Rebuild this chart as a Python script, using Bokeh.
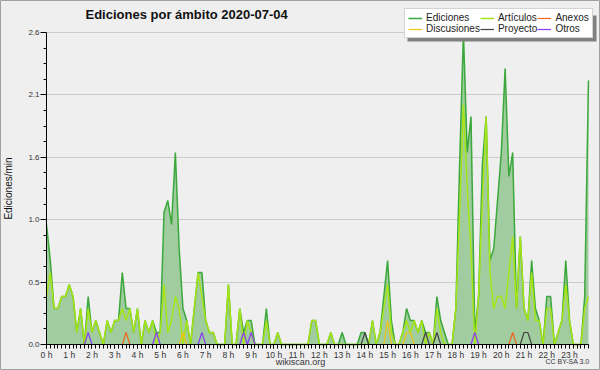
from bokeh.plotting import figure
from bokeh.models import Range1d, FixedTicker, Legend, LegendItem, Label, BoxAnnotation
from bokeh.embed import file_html
from bokeh.resources import INLINE

# ---- data: edits per minute, 10-minute bins over the day ----
minutes = list(range(0, 1440, 10))
hours_x = [m / 60 for m in minutes]

ediciones = [
    1.0, 0.7, 0.3, 0.3, 0.4, 0.4, 0.5, 0.4, 0.1, 0.3, 0.0, 0.4,
    0.1, 0.2, 0.1, 0.0, 0.2, 0.1, 0.2, 0.2, 0.6, 0.3, 0.3, 0.1,
    0.3, 0.0, 0.2, 0.1, 0.2, 0.1, 0.1, 1.1, 1.2, 1.0, 1.6, 0.8,
    0.3, 0.2, 0.0, 0.3, 0.6, 0.6, 0.2, 0.1, 0.1, 0.0, 0.0, 0.0,
    0.5, 0.0, 0.0, 0.3, 0.1, 0.2, 0.2, 0.0, 0.0, 0.0, 0.3, 0.0,
    0.0, 0.1, 0.0, 0.0, 0.0, 0.0, 0.0, 0.0, 0.0, 0.0, 0.2, 0.2,
    0.0, 0.0, 0.0, 0.1, 0.0, 0.0, 0.1, 0.0, 0.0, 0.0, 0.0, 0.1,
    0.1, 0.0, 0.2, 0.0, 0.1, 0.4, 0.7, 0.2, 0.0, 0.0, 0.1, 0.3,
    0.2, 0.2, 0.1, 0.2, 0.1, 0.1, 0.0, 0.4, 0.2, 0.1, 0.0, 0.0,
    0.3, 1.5, 2.6, 1.6, 1.9, 0.1, 0.4, 1.5, 1.9, 0.7, 0.8, 1.2,
    1.6, 2.3, 1.4, 1.6, 0.3, 0.9, 0.3, 0.2, 0.7, 0.3, 0.2, 0.0,
    0.4, 0.4, 0.0, 0.1, 0.2, 0.7, 0.2, 0.0, 0.0, 0.0, 0.4, 2.2,
]

articulos = [
    0.4, 0.6, 0.3, 0.3, 0.4, 0.4, 0.5, 0.4, 0.1, 0.3, 0.0, 0.3,
    0.1, 0.2, 0.1, 0.0, 0.2, 0.1, 0.2, 0.2, 0.3, 0.2, 0.3, 0.1,
    0.3, 0.0, 0.2, 0.1, 0.2, 0.0, 0.1, 0.5, 0.1, 0.2, 0.4, 0.3,
    0.0, 0.2, 0.0, 0.3, 0.6, 0.4, 0.2, 0.1, 0.1, 0.0, 0.0, 0.0,
    0.5, 0.0, 0.0, 0.3, 0.0, 0.2, 0.1, 0.0, 0.0, 0.0, 0.2, 0.0,
    0.0, 0.1, 0.0, 0.0, 0.0, 0.0, 0.0, 0.0, 0.0, 0.0, 0.2, 0.2,
    0.0, 0.0, 0.0, 0.1, 0.0, 0.0, 0.0, 0.0, 0.0, 0.0, 0.0, 0.0,
    0.0, 0.0, 0.2, 0.0, 0.1, 0.3, 0.5, 0.1, 0.0, 0.0, 0.1, 0.2,
    0.1, 0.2, 0.1, 0.2, 0.0, 0.1, 0.0, 0.3, 0.1, 0.0, 0.0, 0.0,
    0.3, 1.1, 2.0, 1.3, 0.8, 0.0, 0.4, 1.2, 1.9, 0.6, 0.3, 0.4,
    0.4, 0.3, 0.6, 0.9, 0.3, 0.9, 0.3, 0.2, 0.6, 0.2, 0.2, 0.0,
    0.3, 0.3, 0.0, 0.1, 0.2, 0.5, 0.2, 0.0, 0.0, 0.0, 0.3, 0.4,
]

discusiones = [
    0, 0, 0, 0, 0, 0, 0, 0, 0, 0, 0, 0,
    0, 0, 0, 0, 0, 0, 0, 0, 0, 0, 0, 0,
    0, 0, 0, 0, 0, 0, 0, 0, 0, 0, 0, 0,
    0.1, 0, 0, 0, 0, 0, 0, 0, 0, 0, 0, 0,
    0, 0, 0, 0, 0, 0, 0, 0, 0, 0, 0, 0,
    0, 0, 0, 0, 0, 0, 0, 0, 0, 0, 0, 0,
    0, 0, 0, 0, 0, 0, 0, 0, 0, 0, 0, 0,
    0, 0, 0, 0, 0, 0, 0.2, 0, 0, 0, 0, 0.1,
    0.1, 0, 0, 0, 0, 0, 0, 0, 0, 0, 0, 0,
    0, 0, 0, 0, 0, 0, 0, 0, 0, 0, 0, 0,
    0, 0, 0, 0, 0, 0, 0, 0, 0, 0, 0, 0,
    0, 0, 0, 0, 0, 0, 0, 0, 0, 0, 0, 0,
]

proyecto = [
    0, 0, 0, 0, 0, 0, 0, 0, 0, 0, 0, 0,
    0, 0, 0, 0, 0, 0, 0, 0, 0, 0, 0, 0,
    0, 0, 0, 0, 0, 0, 0, 0, 0, 0, 0, 0,
    0, 0, 0, 0, 0, 0, 0, 0, 0, 0, 0, 0,
    0, 0, 0, 0, 0, 0, 0, 0, 0, 0, 0, 0,
    0, 0, 0, 0, 0, 0, 0, 0, 0, 0, 0, 0,
    0, 0, 0, 0, 0, 0, 0, 0, 0, 0, 0, 0,
    0.1, 0, 0, 0, 0, 0, 0, 0, 0, 0, 0, 0,
    0, 0, 0, 0, 0.1, 0, 0, 0.1, 0, 0, 0, 0,
    0, 0, 0, 0, 0, 0, 0, 0, 0, 0, 0, 0,
    0, 0, 0, 0, 0, 0, 0.1, 0.1, 0, 0, 0, 0,
    0, 0, 0, 0, 0, 0, 0, 0, 0, 0, 0, 0,
]

anexos = [
    0, 0, 0, 0, 0, 0, 0, 0, 0, 0, 0, 0,
    0, 0, 0, 0, 0, 0, 0, 0, 0, 0.1, 0, 0,
    0, 0, 0, 0, 0, 0, 0, 0, 0, 0, 0, 0,
    0, 0, 0, 0, 0, 0, 0, 0, 0, 0, 0, 0,
    0, 0, 0, 0, 0, 0, 0, 0, 0, 0, 0, 0,
    0, 0, 0, 0, 0, 0, 0, 0, 0, 0, 0, 0,
    0, 0, 0, 0, 0, 0, 0, 0, 0, 0, 0, 0,
    0, 0, 0, 0, 0, 0, 0, 0, 0, 0, 0, 0,
    0, 0, 0, 0, 0, 0, 0, 0, 0, 0, 0, 0,
    0, 0, 0, 0, 0, 0, 0, 0, 0, 0, 0, 0,
    0, 0, 0, 0.1, 0, 0, 0, 0, 0, 0, 0, 0,
    0, 0, 0, 0, 0, 0, 0, 0, 0, 0, 0, 0,
]

otros = [
    0, 0, 0, 0, 0, 0, 0, 0, 0, 0, 0, 0.1,
    0, 0, 0, 0, 0, 0, 0, 0, 0, 0, 0, 0,
    0, 0, 0, 0, 0, 0.1, 0, 0, 0, 0, 0, 0,
    0, 0, 0, 0, 0, 0.1, 0, 0, 0, 0, 0, 0,
    0, 0, 0, 0, 0.1, 0, 0.1, 0, 0, 0, 0, 0,
    0, 0, 0, 0, 0, 0, 0, 0, 0, 0, 0, 0,
    0, 0, 0, 0, 0, 0, 0, 0, 0, 0, 0, 0,
    0, 0, 0, 0, 0, 0, 0, 0, 0, 0, 0, 0,
    0, 0, 0, 0, 0, 0, 0, 0, 0, 0, 0, 0,
    0, 0, 0, 0, 0, 0.1, 0, 0, 0, 0, 0, 0,
    0, 0, 0, 0, 0, 0, 0, 0, 0, 0, 0, 0,
    0, 0, 0, 0, 0, 0, 0, 0, 0, 0, 0, 0,
]

hour_ticks = list(range(24))
hour_labels = [f"{h} h" for h in hour_ticks]
y_ticks = [0, 0.52, 1.04, 1.56, 2.08, 2.6]
y_labels = ["0.0", "0.5", "1.0", "1.6", "2.1", "2.6"]
y_minor = [0.13, 0.26, 0.39, 0.65, 0.78, 0.91, 1.17, 1.3, 1.43,
           1.69, 1.82, 1.95, 2.21, 2.34, 2.47]

title_text = "Ediciones por ámbito  2020-07-04"
FONT = "Liberation Sans"
BG = "#efeff0"

# The frame covers the whole canvas; axes are pinned at x=0 h and y=0.
# Plot area in pixels: x 46..588 (0 h .. 23:50), y 344..32 (0 .. 2.6)
X_END = 143 / 6
PXH = 542 / X_END          # px per hour
PXU = 312 / 2.6            # px per unit
p = figure(width=600, height=370, output_backend="svg", toolbar_location=None,
           x_range=Range1d(-46 / PXH, X_END + 12 / PXH),
           y_range=Range1d(-26 / PXU, 2.6 + 32 / PXU),
           min_border_left=0, min_border_right=0,
           min_border_top=0, min_border_bottom=0)
p.title.visible = False
p.border_fill_color = BG
p.background_fill_color = BG
p.outline_line_color = "#a0a0a0"
p.outline_line_width = 1

# Axes
xa = p.xaxis[0]
xa.fixed_location = 0
xa.bounds = (0, X_END)
xa.ticker = FixedTicker(ticks=hour_ticks, minor_ticks=hours_x)
xa.major_label_overrides = {h: lbl for h, lbl in zip(hour_ticks, hour_labels)}
xa.major_label_text_font = FONT
xa.major_label_text_font_size = "8.5px"
xa.major_label_text_color = "#333333"
xa.major_label_standoff = 1
xa.major_tick_out = 4
xa.major_tick_in = 0
xa.minor_tick_out = 4
xa.minor_tick_in = 0
xa.axis_line_color = "black"
xa.major_tick_line_color = "black"
xa.minor_tick_line_color = "black"

ya = p.yaxis[0]
ya.fixed_location = 0
ya.bounds = (0, 2.6)
ya.ticker = FixedTicker(ticks=y_ticks, minor_ticks=y_minor)
ya.major_label_overrides = {t: lbl for t, lbl in zip(y_ticks, y_labels)}
ya.major_label_text_font = FONT
ya.major_label_text_font_size = "8px"
ya.major_label_text_color = "#333333"
ya.major_label_standoff = 1
ya.major_tick_out = 6
ya.major_tick_in = 0
ya.minor_tick_out = 3
ya.minor_tick_in = 0
ya.axis_label = "Ediciones/min"
ya.axis_label_text_font = FONT
ya.axis_label_text_font_size = "10px"
ya.axis_label_text_font_style = "normal"
ya.axis_label_text_color = "#111111"
ya.axis_label_standoff = 11
ya.axis_line_color = "black"

p.xgrid.grid_line_color = None
yg = p.ygrid[0]
yg.grid_line_color = "#cccccc"
yg.grid_line_width = 1
yg.bounds = (0, 2.6)
if "cross_bounds" in yg.properties():
    yg.cross_bounds = (0, X_END)

# Glyphs
p.varea(x=hours_x, y1=[0] * len(hours_x), y2=ediciones,
        fill_color="#a0cca0", fill_alpha=1.0)
r_ed = p.line(hours_x, ediciones, line_color="#3aa83a", line_width=1.5)
r_ar = p.line(hours_x, articulos, line_color="#a6e414", line_width=1.5)
r_di = p.line(hours_x, discusiones, line_color="#f2c40f", line_width=1.2)
r_pr = p.line(hours_x, proyecto, line_color="#444444", line_width=1.2)
r_an = p.line(hours_x, anexos, line_color="#f0641e", line_width=1.2)
r_ot = p.line(hours_x, otros, line_color="#8a3cf0", line_width=1.2)

# Title (screen units from the bottom-left of the canvas)
p.add_layout(Label(x=85, y=356, x_units="screen", y_units="screen",
                   text=title_text, text_align="left", text_baseline="middle",
                   text_font=FONT, text_font_size="13px", text_font_style="bold",
                   text_color="#111111"))

# legend shadow
p.add_layout(BoxAnnotation(left=407, right=596, top=355, bottom=329,
                           left_units="screen", right_units="screen",
                           top_units="screen", bottom_units="screen",
                           fill_color="#808080", fill_alpha=1.0, line_color=None,
                           level="overlay"))

legend = Legend(
    items=[
        LegendItem(label="Ediciones", renderers=[r_ed]),
        LegendItem(label="Discusiones", renderers=[r_di]),
        LegendItem(label="Artículos", renderers=[r_ar]),
        LegendItem(label="Proyecto", renderers=[r_pr]),
        LegendItem(label="Anexos", renderers=[r_an]),
        LegendItem(label="Otros", renderers=[r_ot]),
    ],
    orientation="vertical", nrows=2,
    location=(404, 332),
    label_text_font=FONT, label_text_font_size="10px", label_text_color="#222222",
    label_height=10, glyph_height=10, glyph_width=14, label_standoff=4,
    spacing=0, padding=3, margin=0,
    border_line_color="#aaaaaa", border_line_width=1,
    background_fill_color="#ffffff", background_fill_alpha=1.0,
)
p.add_layout(legend)

p.add_layout(Label(x=300, y=9, x_units="screen", y_units="screen",
                   text="wikiscan.org", text_align="center", text_baseline="middle",
                   text_font=FONT, text_font_size="9px", text_color="#333333"))
p.add_layout(Label(x=589, y=9, x_units="screen", y_units="screen",
                   text="CC BY-SA 3.0", text_align="right", text_baseline="middle",
                   text_font=FONT, text_font_size="7px", text_color="#333333"))

open("out.html", "w").write(file_html(p, INLINE))
